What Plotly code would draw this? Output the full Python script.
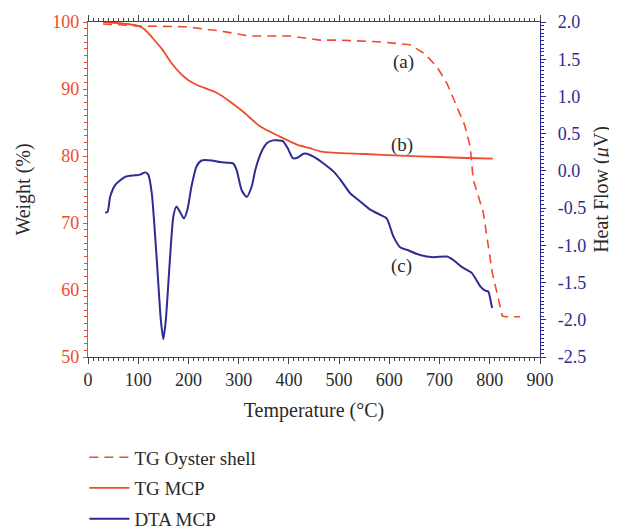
import plotly.graph_objects as go

RED = "#EF4B2D"
BLUE = "#2E2C92"
TXT = "#2a2a2a"
FONT = "Liberation Serif"

# TG Oyster shell (weight %, left axis)
oyster_T = [30, 104, 193, 260, 323, 402, 462, 502, 588, 641, 670, 695, 715, 735, 750, 761, 767, 787, 805, 825, 831, 860]
oyster_W = [99.7, 99.4, 99.3, 98.7, 97.9, 97.9, 97.3, 97.3, 97.0, 96.6, 95.3, 93.3, 90.8, 87.4, 84.6, 81.4, 76.5, 71.6, 62.6, 56.1, 56.0, 56.0]

# TG MCP (weight %, left axis)
mcp_T = [30, 80, 104, 114, 130, 149, 165, 183, 200, 217, 257, 283, 309, 343, 382, 416, 440, 462, 488, 550, 622, 700, 754, 806]
mcp_W = [100.0, 99.7, 99.3, 98.8, 97.5, 95.8, 94.0, 92.4, 91.3, 90.6, 89.4, 88.1, 86.6, 84.4, 82.9, 81.7, 81.2, 80.7, 80.5, 80.3, 80.05, 79.85, 79.7, 79.6]

# DTA MCP (heat flow uV, right axis)
dta_T = [34, 39, 44, 54, 74, 94, 104, 114, 120, 127, 137, 145, 150, 155, 163, 170, 176, 183, 191, 198, 206, 216, 226, 246, 263, 276, 289, 296, 306, 316, 326, 333, 345, 356, 368, 378, 388, 398, 408, 418, 429, 436, 449, 469, 489, 505, 522, 542, 562, 582, 595, 608, 622, 635, 661, 688, 715, 728, 744, 764, 781, 791, 797, 804, 805]
dta_H = [-0.56, -0.55, -0.35, -0.19, -0.08, -0.06, -0.05, -0.02, -0.05, -0.30, -1.20, -2.00, -2.26, -2.00, -1.20, -0.61, -0.48, -0.55, -0.64, -0.52, -0.21, 0.06, 0.14, 0.14, 0.12, 0.11, 0.10, 0.01, -0.26, -0.35, -0.21, 0.01, 0.25, 0.37, 0.41, 0.41, 0.40, 0.30, 0.17, 0.18, 0.23, 0.23, 0.19, 0.10, -0.01, -0.14, -0.30, -0.41, -0.52, -0.59, -0.64, -0.88, -1.03, -1.06, -1.13, -1.16, -1.15, -1.20, -1.29, -1.37, -1.55, -1.61, -1.62, -1.82, -1.84]

x_ticks = [0, 100, 200, 300, 400, 500, 600, 700, 800, 900]
w_ticks = [50, 60, 70, 80, 90, 100]
h_tickvals = [-2.5, -2.0, -1.5, -1.0, -0.5, 0.0, 0.5, 1.0, 1.5, 2.0]
h_ticktext = ["-2.5", "-2.0", "-1.5", "-1.0", "-0.5", "0.0", "0.5", "1.0", "1.5", "2.0"]

labels = ["(a)", "(b)", "(c)"]
label_T = [628, 625, 625]
label_W = [94.0, 81.7, 63.6]

fig = go.Figure()
fig.add_trace(go.Scatter(x=oyster_T, y=oyster_W, mode="lines", name="TG Oyster shell",
                         line=dict(color=RED, width=1.6, dash="9px,6px"), legendgroup="a"))
fig.add_trace(go.Scatter(x=mcp_T, y=mcp_W, mode="lines", name="TG MCP",
                         line=dict(color=RED, width=1.8, shape="spline", smoothing=0.6), legendgroup="b"))
fig.add_trace(go.Scatter(x=dta_T, y=dta_H, mode="lines", name="DTA MCP", yaxis="y2",
                         line=dict(color=BLUE, width=2.0, shape="spline", smoothing=0.6), legendgroup="c"))

for t, x, y in zip(labels, label_T, label_W):
    fig.add_annotation(x=x, y=y, xref="x", yref="y", text=t, showarrow=False,
                       font=dict(family=FONT, size=19, color=TXT))

# page body has an 8px default margin, so the figure is sized and placed to compensate
fig.update_layout(
    width=609, height=522,
    margin=dict(l=80, r=77, t=14, b=173, autoexpand=False),
    paper_bgcolor="white", plot_bgcolor="white",
    font=dict(family=FONT, size=18, color=TXT),
    showlegend=True,
    legend=dict(x=-0.008, y=-0.243, xanchor="left", yanchor="top", orientation="v",
                font=dict(family=FONT, size=19, color=TXT), traceorder="grouped",
                tracegroupgap=3, itemwidth=40, bgcolor="rgba(0,0,0,0)"),
    xaxis=dict(range=[0, 900], tickvals=x_ticks, ticks="outside", ticklen=6, tickwidth=1,
               tickcolor="#444", showline=True, linecolor="#444", linewidth=1.2, mirror="ticks",
               showgrid=False, zeroline=False, tickfont=dict(size=18, color=TXT), automargin=False,
               minor=dict(dtick=10, ticklen=3, tickcolor="#444", ticks="outside"),
               title=dict(text="Temperature (°C)", font=dict(size=20, color=TXT), standoff=14)),
    yaxis=dict(range=[50, 100], tickvals=w_ticks, ticks="outside", ticklen=4, tickwidth=1,
               tickcolor=RED, showline=True, linecolor=RED, linewidth=1.2, automargin=False,
               showgrid=False, zeroline=False, tickfont=dict(size=18, color=RED),
               minor=dict(dtick=1, ticklen=3, tickcolor=RED, ticks="outside"),
               title=dict(text="Weight (%)", font=dict(size=20, color=TXT), standoff=16)),
    yaxis2=dict(range=[-2.5, 2.0], overlaying="y", side="right", tickvals=h_tickvals,
                ticktext=h_ticktext, ticks="outside", ticklen=5, tickwidth=1,
                tickcolor=BLUE, showline=True, linecolor=BLUE, linewidth=1.2, automargin=False,
                showgrid=False, zeroline=False, tickfont=dict(size=18, color=BLUE),
                ticklabelstandoff=8,
                minor=dict(dtick=0.05, ticklen=3, tickcolor=BLUE, ticks="outside"),
                title=dict(text="Heat Flow (<i>μ</i>V)", font=dict(size=20, color=TXT), standoff=8)),
)

fig.write_html("out.html")
